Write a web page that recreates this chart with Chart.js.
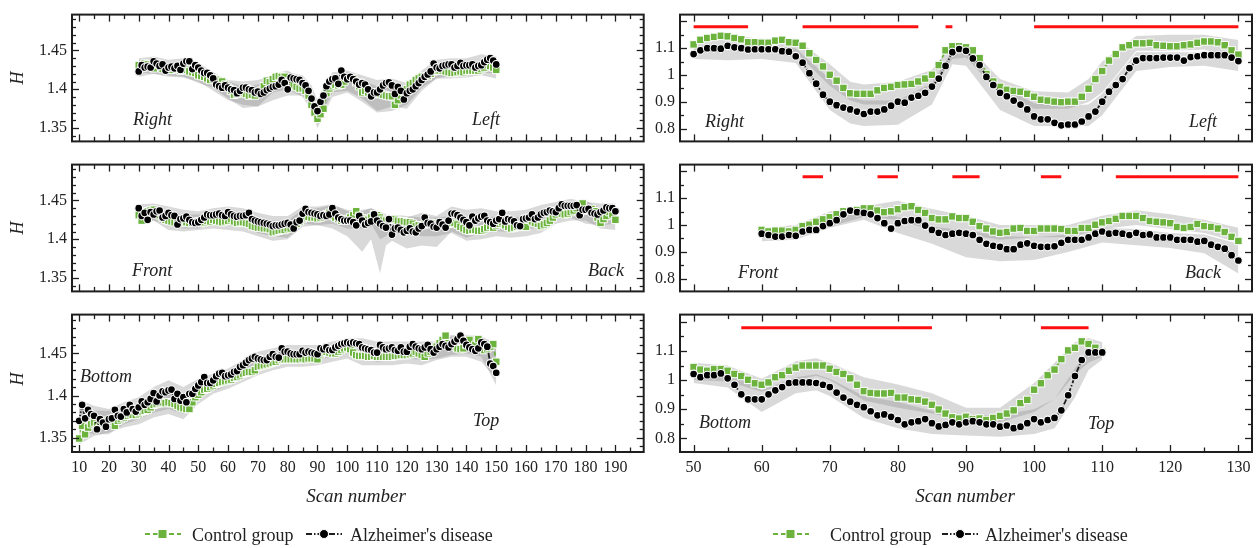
<!DOCTYPE html>
<html>
<head>
<meta charset="utf-8">
<script src="https://cdn.jsdelivr.net/npm/chart.js@4.4.1/dist/chart.umd.min.js"></script>
<style>
  body { margin: 0; background: #fff; }
  #wrap { position: relative; width: 1260px; height: 548px; overflow: hidden;
          font-family: 'Liberation Serif', 'Times New Roman', serif; color: #222; }
  canvas { position: absolute; }
  .lbl { position: absolute; font-style: italic; font-size: 18px; line-height: 18px;
         white-space: nowrap; transform: translateY(-50%); }
  .ytitle { position: absolute; font-style: italic; font-size: 18px; line-height: 18px;
            transform: translate(-50%, -50%) rotate(-90deg); }
  .xtitle { position: absolute; font-style: italic; font-size: 19px; line-height: 20px;
            white-space: nowrap; transform: translate(-50%, -50%); }
  .key { position: absolute; transform: translateY(-50%); }
  .ktext { position: absolute; font-size: 18px; line-height: 18px; white-space: nowrap;
           transform: translateY(-50%); }
</style>
</head>
<body>
<div id="wrap">
  <canvas id="cL1" width="650" height="156" style="left:0;top:0"></canvas>
  <canvas id="cL2" width="650" height="156" style="left:0;top:150px"></canvas>
  <canvas id="cL3" width="650" height="210" style="left:0;top:300px"></canvas>
  <canvas id="cR1" width="610" height="156" style="left:650px;top:0"></canvas>
  <canvas id="cR2" width="610" height="156" style="left:650px;top:150px"></canvas>
  <canvas id="cR3" width="610" height="210" style="left:650px;top:300px"></canvas>

  <div class="ytitle" style="left:17px;top:78px">H</div>
  <div class="ytitle" style="left:17px;top:228px">H</div>
  <div class="ytitle" style="left:17px;top:379px">H</div>

  <div class="lbl" style="left:133px;top:119px">Right</div>
  <div class="lbl" style="left:472px;top:119px">Left</div>
  <div class="lbl" style="left:132px;top:270px">Front</div>
  <div class="lbl" style="left:588px;top:270px">Back</div>
  <div class="lbl" style="left:80px;top:376px">Bottom</div>
  <div class="lbl" style="left:473px;top:420px">Top</div>
  <div class="lbl" style="left:705px;top:121px">Right</div>
  <div class="lbl" style="left:1189px;top:121px">Left</div>
  <div class="lbl" style="left:738px;top:272px">Front</div>
  <div class="lbl" style="left:1185px;top:272px">Back</div>
  <div class="lbl" style="left:699px;top:422px">Bottom</div>
  <div class="lbl" style="left:1088px;top:423px">Top</div>

  <div class="xtitle" style="left:356px;top:496px">Scan number</div>
  <div class="xtitle" style="left:965px;top:496px">Scan number</div>

  <div id="legends"></div>
</div>
<script>
const range = (a, b) => Array.from({ length: b - a + 1 }, (_, i) => a + i);

// ---- left column: whole-scan H values ----
const scanLR = range(30, 150);
const lrControl = [
  1.431,1.428,1.433,1.432,1.430,1.427,1.433,1.431,1.426,1.428,
  1.427,1.425,1.428,1.426,1.424,1.426,1.425,1.423,1.422,1.421,
  1.418,1.417,1.416,1.414,1.412,1.414,1.413,1.411,1.410,1.406,
  1.402,1.398,1.393,1.394,1.397,1.396,1.394,1.392,1.393,1.392,
  1.395,1.398,1.404,1.411,1.409,1.413,1.416,1.417,1.416,1.416,
  1.410,1.407,1.405,1.403,1.401,1.401,1.398,1.392,1.380,1.370,
  1.362,1.368,1.375,1.395,1.401,1.404,1.406,1.405,1.406,1.410,
  1.415,1.414,1.414,1.409,1.404,1.396,1.398,1.396,1.394,1.394,
  1.394,1.394,1.393,1.392,1.391,1.391,1.380,1.386,1.392,1.397,
  1.400,1.406,1.408,1.412,1.414,1.416,1.417,1.417,1.420,1.423,
  1.424,1.424,1.424,1.423,1.422,1.421,1.421,1.422,1.423,1.422,
  1.424,1.424,1.424,1.424,1.424,1.426,1.428,1.431,1.430,1.428,
  1.425];
const lrAD = [
  1.423,1.431,1.428,1.429,1.428,1.436,1.433,1.430,1.432,1.424,
  1.428,1.429,1.427,1.430,1.425,1.433,1.436,1.436,1.426,1.431,
  1.428,1.424,1.421,1.421,1.418,1.414,1.406,1.404,1.402,1.405,
  1.402,1.400,1.399,1.395,1.398,1.402,1.402,1.400,1.399,1.396,
  1.397,1.394,1.396,1.399,1.401,1.403,1.404,1.406,1.412,1.408,
  1.400,1.415,1.414,1.413,1.412,1.408,1.405,1.398,1.388,1.378,
  1.372,1.384,1.392,1.404,1.410,1.413,1.414,1.407,1.424,1.416,
  1.413,1.416,1.413,1.410,1.406,1.408,1.406,1.400,1.391,1.396,
  1.396,1.400,1.405,1.408,1.409,1.405,1.394,1.403,1.398,1.387,
  1.395,1.398,1.400,1.404,1.408,1.412,1.416,1.419,1.423,1.433,
  1.428,1.427,1.430,1.431,1.432,1.432,1.428,1.430,1.434,1.430,
  1.431,1.431,1.432,1.428,1.430,1.431,1.435,1.438,1.440,1.437,
  1.432];
const lrBandX  = [30,35,40,45,50,55,60,65,70,75,80,85,88,90,92,95,100,105,110,115,120,125,130,135,140,145,150];
const lrCtlHi  = [1.438,1.436,1.432,1.430,1.426,1.422,1.410,1.404,1.406,1.420,1.424,1.412,1.398,1.378,1.395,1.414,1.422,1.412,1.404,1.404,1.406,1.422,1.432,1.432,1.432,1.436,1.434];
const lrCtlLo  = [1.422,1.420,1.418,1.416,1.408,1.402,1.388,1.376,1.378,1.396,1.400,1.390,1.372,1.350,1.366,1.390,1.396,1.384,1.370,1.372,1.380,1.402,1.414,1.414,1.415,1.418,1.414];
const lrADHi   = [1.440,1.442,1.438,1.440,1.434,1.422,1.412,1.410,1.412,1.418,1.422,1.418,1.405,1.386,1.402,1.422,1.424,1.418,1.412,1.414,1.408,1.424,1.438,1.440,1.440,1.445,1.442];
const lrADLo   = [1.416,1.420,1.416,1.415,1.410,1.398,1.386,1.380,1.378,1.386,1.392,1.392,1.378,1.356,1.372,1.396,1.398,1.388,1.372,1.378,1.375,1.398,1.414,1.418,1.420,1.422,1.420];

const scanFB = range(30, 190);
const fbControl = [
  1.431,1.424,1.435,1.436,1.437,1.438,1.434,1.431,1.428,1.425,
  1.424,1.423,1.422,1.422,1.421,1.423,1.422,1.421,1.421,1.422,
  1.423,1.421,1.422,1.424,1.423,1.425,1.424,1.423,1.422,1.423,
  1.424,1.426,1.423,1.421,1.422,1.422,1.421,1.420,1.417,1.416,
  1.415,1.415,1.414,1.414,1.413,1.409,1.410,1.411,1.412,1.412,
  1.414,1.414,1.417,1.420,1.423,1.426,1.428,1.429,1.428,1.428,
  1.427,1.428,1.430,1.432,1.434,1.430,1.428,1.426,1.424,1.425,
  1.426,1.428,1.431,1.436,1.430,1.427,1.425,1.425,1.428,1.432,
  1.431,1.428,1.425,1.424,1.425,1.427,1.426,1.424,1.423,1.423,
  1.422,1.422,1.420,1.417,1.418,1.418,1.419,1.420,1.421,1.420,
  1.418,1.420,1.421,1.420,1.420,1.421,1.421,1.419,1.416,1.414,
  1.412,1.411,1.412,1.412,1.411,1.411,1.413,1.415,1.417,1.415,
  1.418,1.420,1.422,1.418,1.416,1.414,1.415,1.416,1.416,1.416,
  1.416,1.425,1.423,1.421,1.420,1.417,1.419,1.421,1.424,1.428,
  1.432,1.435,1.433,1.432,1.433,1.435,1.437,1.440,1.444,1.446,
  1.437,1.438,1.439,1.436,1.428,1.421,1.426,1.430,1.435,1.432,
  1.425];
const fbAD = [
  1.440,1.430,1.434,1.425,1.435,1.432,1.436,1.437,1.428,1.430,
  1.434,1.431,1.430,1.419,1.426,1.427,1.429,1.425,1.422,1.421,
  1.422,1.425,1.428,1.432,1.431,1.431,1.432,1.433,1.431,1.430,
  1.435,1.432,1.430,1.429,1.430,1.430,1.431,1.434,1.426,1.424,
  1.423,1.422,1.421,1.420,1.419,1.417,1.418,1.418,1.419,1.420,
  1.421,1.419,1.414,1.422,1.424,1.433,1.439,1.435,1.434,1.433,
  1.432,1.430,1.431,1.430,1.432,1.440,1.433,1.428,1.426,1.424,
  1.424,1.424,1.422,1.418,1.430,1.424,1.419,1.421,1.423,1.432,
  1.424,1.420,1.417,1.415,1.426,1.406,1.414,1.415,1.412,1.409,
  1.411,1.414,1.410,1.409,1.414,1.417,1.428,1.421,1.420,1.416,
  1.415,1.422,1.419,1.415,1.424,1.433,1.433,1.431,1.428,1.425,
  1.422,1.418,1.429,1.424,1.427,1.429,1.430,1.424,1.422,1.420,
  1.424,1.426,1.434,1.423,1.426,1.425,1.423,1.418,1.417,1.426,
  1.427,1.428,1.432,1.426,1.428,1.432,1.434,1.435,1.437,1.436,
  1.435,1.440,1.445,1.443,1.443,1.443,1.443,1.444,1.431,1.438,
  1.438,1.439,1.434,1.433,1.432,1.435,1.437,1.441,1.440,1.440,
  1.436];
const fbBandX = [30,35,40,45,50,55,60,65,70,75,80,85,90,95,100,105,108,111,113,115,120,125,130,135,140,145,150,155,160,165,170,175,180,185,190];
const fbCtlHi = [1.440,1.442,1.434,1.432,1.432,1.434,1.434,1.432,1.428,1.424,1.424,1.438,1.440,1.444,1.438,1.436,1.440,1.434,1.430,1.432,1.430,1.428,1.428,1.430,1.424,1.426,1.430,1.428,1.430,1.434,1.442,1.448,1.450,1.440,1.438];
const fbCtlLo = [1.420,1.424,1.412,1.410,1.412,1.414,1.412,1.410,1.404,1.398,1.400,1.416,1.418,1.420,1.414,1.414,1.420,1.400,1.404,1.412,1.408,1.404,1.404,1.408,1.398,1.400,1.404,1.402,1.404,1.408,1.420,1.424,1.424,1.414,1.412];
const fbADHi  = [1.445,1.446,1.442,1.438,1.436,1.440,1.442,1.440,1.434,1.430,1.430,1.442,1.442,1.445,1.436,1.438,1.440,1.436,1.432,1.430,1.428,1.434,1.430,1.442,1.438,1.440,1.436,1.436,1.438,1.444,1.448,1.452,1.448,1.446,1.446];
const fbADLo  = [1.422,1.424,1.418,1.414,1.414,1.420,1.418,1.418,1.408,1.404,1.402,1.420,1.418,1.414,1.404,1.384,1.400,1.356,1.392,1.398,1.388,1.392,1.390,1.410,1.402,1.408,1.410,1.410,1.412,1.416,1.426,1.428,1.420,1.418,1.420];

const scanBT = range(10, 150);
const btControl = [
  1.349,1.364,1.354,1.362,1.366,1.368,1.365,1.367,1.369,1.370,
  1.369,1.371,1.364,1.370,1.372,1.374,1.376,1.378,1.377,1.377,
  1.379,1.381,1.382,1.383,1.386,1.389,1.390,1.391,1.392,1.391,
  1.392,1.391,1.390,1.388,1.386,1.385,1.384,1.384,1.392,1.398,
  1.401,1.404,1.407,1.408,1.410,1.412,1.414,1.415,1.416,1.417,
  1.418,1.419,1.421,1.422,1.424,1.426,1.427,1.428,1.428,1.430,
  1.434,1.435,1.436,1.437,1.438,1.439,1.440,1.442,1.443,1.443,
  1.443,1.443,1.443,1.443,1.443,1.444,1.443,1.444,1.444,1.444,
  1.443,1.449,1.451,1.452,1.451,1.450,1.450,1.452,1.454,1.456,
  1.457,1.455,1.451,1.448,1.447,1.447,1.447,1.446,1.446,1.447,
  1.446,1.446,1.446,1.446,1.446,1.446,1.447,1.447,1.448,1.448,
  1.448,1.449,1.450,1.452,1.450,1.448,1.446,1.450,1.452,1.455,
  1.458,1.462,1.466,1.471,1.462,1.460,1.458,1.456,1.455,1.456,
  1.460,1.466,1.457,1.460,1.467,1.460,1.454,1.456,1.458,1.461,
  1.440];
const btAD = [
  1.370,1.389,1.373,1.383,1.378,1.376,1.360,1.372,1.368,1.363,
  1.372,1.373,1.383,1.376,1.375,1.384,1.380,1.389,1.384,1.381,
  1.386,1.393,1.389,1.392,1.396,1.403,1.393,1.400,1.405,1.404,
  1.406,1.407,1.396,1.402,1.394,1.398,1.392,1.402,1.402,1.408,
  1.412,1.416,1.422,1.415,1.415,1.418,1.423,1.426,1.427,1.423,
  1.424,1.425,1.428,1.429,1.434,1.436,1.439,1.442,1.444,1.446,
  1.444,1.443,1.442,1.442,1.446,1.449,1.446,1.445,1.456,1.452,
  1.452,1.450,1.449,1.449,1.449,1.453,1.451,1.452,1.451,1.450,
  1.449,1.456,1.455,1.457,1.454,1.454,1.457,1.459,1.461,1.462,
  1.463,1.462,1.463,1.462,1.461,1.457,1.456,1.455,1.454,1.451,
  1.451,1.460,1.457,1.455,1.456,1.457,1.454,1.453,1.457,1.452,
  1.452,1.458,1.461,1.458,1.456,1.455,1.457,1.460,1.455,1.451,
  1.455,1.458,1.461,1.459,1.457,1.461,1.464,1.467,1.471,1.465,
  1.460,1.457,1.455,1.453,1.456,1.463,1.461,1.458,1.438,1.435,
  1.427];
const btBandX = [10,15,20,25,30,35,40,45,50,55,60,65,70,75,80,85,90,95,100,105,110,115,120,125,130,135,140,145,150];
const btCtlHi = [1.385,1.382,1.382,1.386,1.390,1.400,1.408,1.400,1.412,1.420,1.426,1.434,1.442,1.448,1.452,1.452,1.454,1.458,1.464,1.458,1.456,1.456,1.458,1.458,1.464,1.472,1.470,1.470,1.462];
const btCtlLo = [1.342,1.352,1.356,1.362,1.366,1.374,1.378,1.372,1.390,1.402,1.408,1.416,1.424,1.430,1.434,1.434,1.436,1.440,1.444,1.436,1.436,1.436,1.438,1.436,1.442,1.446,1.446,1.440,1.420];
const btADHi  = [1.395,1.388,1.384,1.392,1.398,1.410,1.418,1.410,1.420,1.426,1.432,1.442,1.452,1.456,1.460,1.460,1.460,1.464,1.468,1.468,1.464,1.464,1.464,1.464,1.464,1.470,1.472,1.470,1.455];
const btADLo  = [1.358,1.354,1.354,1.366,1.372,1.380,1.384,1.378,1.398,1.405,1.412,1.422,1.430,1.436,1.440,1.442,1.442,1.446,1.450,1.444,1.440,1.442,1.444,1.442,1.444,1.448,1.450,1.446,1.412];

// ---- right column: H per scan, scans 50-130 ----
const scanR1 = range(50, 130);
const r1Control = [
  1.114,1.131,1.138,1.142,1.146,1.144,1.138,1.133,1.122,1.122,
  1.120,1.120,1.128,1.131,1.122,1.120,1.109,1.081,1.056,1.032,
  1.001,0.979,0.952,0.932,0.930,0.930,0.930,0.943,0.952,0.956,
  0.963,0.965,0.967,0.976,0.987,1.001,1.037,1.092,1.107,1.107,
  1.103,1.092,1.063,1.004,0.976,0.956,0.945,0.941,0.938,0.930,
  0.919,0.908,0.905,0.901,0.899,0.901,0.901,0.919,0.949,0.985,
  1.015,1.054,1.078,1.103,1.111,1.118,1.118,1.120,1.111,1.109,
  1.107,1.107,1.111,1.114,1.120,1.125,1.125,1.122,1.111,1.092,
  1.076];
const r1AD = [
  1.078,1.092,1.100,1.100,1.098,1.109,1.103,1.100,1.095,1.096,
  1.096,1.096,1.096,1.089,1.087,1.070,1.046,1.007,0.968,0.927,
  0.901,0.888,0.879,0.872,0.864,0.855,0.864,0.864,0.872,0.886,
  0.901,0.897,0.916,0.923,0.934,0.957,0.987,1.034,1.085,1.097,
  1.090,1.062,1.037,0.993,0.963,0.934,0.921,0.905,0.890,0.872,
  0.846,0.835,0.835,0.822,0.813,0.816,0.816,0.827,0.846,0.864,
  0.901,0.938,0.963,0.985,1.026,1.054,1.063,1.063,1.063,1.065,
  1.065,1.065,1.054,1.067,1.070,1.074,1.074,1.074,1.074,1.065,
  1.052];
const r1BandX = [50,55,60,65,70,73,75,80,85,88,90,95,100,105,108,110,115,120,125,130];
const r1CtlHi = [1.125,1.148,1.135,1.135,1.040,0.975,0.965,0.975,1.020,1.115,1.115,0.985,0.940,0.935,0.985,1.050,1.145,1.150,1.150,1.130];
const r1CtlLo = [1.095,1.100,1.095,1.085,0.960,0.905,0.890,0.890,0.945,1.060,1.065,0.930,0.875,0.875,0.900,0.935,1.090,1.090,1.095,1.055];
const r1ADHi  = [1.105,1.115,1.110,1.100,0.985,0.920,0.905,0.905,0.970,1.090,1.100,0.960,0.895,0.885,0.890,0.930,1.085,1.085,1.085,1.075];
const r1ADLo  = [1.060,1.055,1.060,1.045,0.870,0.820,0.810,0.815,0.890,1.040,1.035,0.870,0.810,0.810,0.810,0.850,1.015,1.030,1.035,1.015];
const r1Sig = [[50, 58], [66, 83], [87, 88], [100, 130]];

const scanR2 = range(60, 130);
const r2Control = [
  0.982,0.976,0.979,0.979,0.976,0.982,0.996,1.001,1.012,1.021,
  1.029,1.040,1.051,1.054,1.056,1.062,1.062,1.054,1.048,1.051,
  1.059,1.067,1.070,1.056,1.045,1.026,1.021,1.021,1.032,1.026,
  1.026,1.012,0.996,0.987,0.976,0.971,0.974,0.987,0.989,0.978,
  0.978,0.987,0.987,0.987,0.985,0.978,0.978,0.989,0.989,1.001,
  1.010,1.015,1.023,1.034,1.034,1.034,1.026,1.015,1.012,1.010,
  1.007,0.993,0.989,0.993,1.004,0.996,0.993,0.987,0.974,0.956,
  0.941];
const r2AD = [
  0.968,0.963,0.957,0.957,0.963,0.960,0.976,0.982,0.982,0.996,
  1.007,1.018,1.040,1.054,1.048,1.045,1.040,1.026,1.007,0.987,
  1.007,1.015,1.018,1.018,0.998,0.982,0.971,0.963,0.968,0.971,
  0.968,0.963,0.945,0.930,0.923,0.919,0.910,0.910,0.927,0.932,
  0.923,0.919,0.919,0.921,0.934,0.945,0.945,0.945,0.954,0.968,
  0.976,0.968,0.971,0.968,0.963,0.971,0.963,0.965,0.954,0.954,
  0.954,0.945,0.945,0.945,0.938,0.941,0.927,0.919,0.912,0.888,
  0.868];
const r2BandX = [60,65,70,75,80,85,90,95,100,105,110,115,120,125,130];
const r2CtlHi = [0.990,1.000,1.050,1.070,1.090,1.060,1.035,1.000,1.000,1.000,1.035,1.055,1.040,1.020,0.990];
const r2CtlLo = [0.955,0.965,0.995,1.030,1.020,0.980,0.965,0.945,0.955,0.955,0.985,1.000,0.985,0.970,0.935];
const r2ADHi  = [0.980,0.975,1.020,1.060,1.030,0.995,0.980,0.960,0.955,0.965,0.990,0.985,0.970,0.965,0.930];
const r2ADLo  = [0.940,0.945,0.990,1.020,0.970,0.930,0.880,0.865,0.870,0.900,0.935,0.925,0.915,0.895,0.820];
const r2Sig = [[66, 69], [77, 80], [88, 92], [101, 104], [112, 130]];

const scanR3 = range(50, 110);
const r3Control = [
  1.045,1.036,1.032,1.038,1.038,1.032,1.021,1.014,1.001,0.989,
  0.984,0.992,1.010,1.017,1.032,1.043,1.050,1.050,1.050,1.050,
  1.039,1.028,1.021,1.006,0.984,0.962,0.956,0.954,0.954,0.956,
  0.940,0.940,0.934,0.932,0.926,0.915,0.899,0.885,0.872,0.868,
  0.874,0.866,0.868,0.863,0.870,0.877,0.885,0.896,0.921,0.932,
  0.967,0.989,1.017,1.036,1.072,1.102,1.111,1.133,1.124,1.111,
  1.097];
const r3AD = [
  1.021,1.010,1.017,1.017,1.023,1.006,0.984,0.951,0.934,0.934,
  0.934,0.951,0.965,0.976,0.990,0.992,0.992,0.992,0.990,0.984,
  0.976,0.957,0.940,0.926,0.915,0.907,0.893,0.879,0.882,0.874,
  0.863,0.848,0.855,0.859,0.866,0.852,0.841,0.846,0.855,0.848,
  0.855,0.859,0.855,0.848,0.848,0.840,0.844,0.835,0.840,0.852,
  0.866,0.855,0.863,0.870,0.896,0.948,1.014,1.069,1.095,1.095,
  1.095];
const r3BandX = [50,55,60,65,68,70,75,80,85,90,95,100,103,106,108,110];
const r3CtlHi = [1.060,1.050,1.005,1.065,1.075,1.060,1.010,0.985,0.955,0.905,0.905,0.990,1.060,1.130,1.145,1.130];
const r3CtlLo = [1.000,0.995,0.960,1.000,1.015,1.000,0.930,0.905,0.885,0.860,0.855,0.890,0.935,1.020,1.060,1.080];
const r3ADHi  = [1.045,1.035,0.965,1.010,1.020,1.005,0.945,0.925,0.895,0.880,0.880,0.900,0.935,1.040,1.100,1.115];
const r3ADLo  = [0.990,0.975,0.890,0.955,0.965,0.945,0.870,0.835,0.815,0.810,0.805,0.815,0.835,0.940,1.035,1.070];
const r3Sig = [[57, 85], [101, 108]];

const GREEN = '#6cb33e';
const INK = '#1e1e1e';
const BAND = 'rgba(124,124,124,0.29)';
const SIG_RED = '#ff1010';
const SIG_LEVEL = 1.18;
const FONT = "'Liberation Serif', 'Times New Roman', serif";

const xy = (xs, ys) => xs.map((x, i) => ({ x, y: ys[i] }));

// inward ticks on all four sides plus the box frame
const frameTicks = {
  id: 'frameTicks',
  afterDatasetsDraw(chart, args, o) {
    const { ctx, chartArea: a } = chart;
    const sx = chart.scales.x, sy = chart.scales.y;
    ctx.save();
    ctx.strokeStyle = INK;
    ctx.lineWidth = 1.3;
    const seg = (x1, y1, x2, y2) => { ctx.beginPath(); ctx.moveTo(x1, y1); ctx.lineTo(x2, y2); ctx.stroke(); };
    const isMajor = (v, step) => Math.abs(v / step - Math.round(v / step)) < 1e-6;
    for (let k = Math.ceil(sx.min / o.xMinor); k * o.xMinor <= sx.max; k++) {
      const v = k * o.xMinor;
      const px = Math.round(sx.getPixelForValue(v)) + 0.5;
      const len = isMajor(v, o.xMajor) ? 7 : 4.5;
      seg(px, a.bottom, px, a.bottom - len);
      seg(px, a.top, px, a.top + len);
    }
    for (let k = Math.ceil(sy.min / o.yMinor - 1e-9); k * o.yMinor <= sy.max + 1e-9; k++) {
      const v = k * o.yMinor;
      const py = Math.round(sy.getPixelForValue(v)) + 0.5;
      const len = isMajor(v, o.yMajor) ? 7 : 4;
      seg(a.left, py, a.left + len, py);
      seg(a.right, py, a.right - len, py);
    }
    ctx.lineWidth = 2;
    ctx.strokeRect(a.left, a.top, a.right - a.left, a.bottom - a.top);
    ctx.restore();
  }
};

function bandPair(xs, lo, hi) {
  const base = { pointRadius: 0, borderColor: 'transparent', borderWidth: 0, order: 10 };
  return [
    { ...base, data: xy(xs, lo), fill: false },
    { ...base, data: xy(xs, hi), fill: '-1', backgroundColor: BAND }
  ];
}

function sigData(segs) {
  const pts = [];
  segs.forEach(([a, b]) => { pts.push({ x: a, y: SIG_LEVEL }, { x: b, y: SIG_LEVEL }, { x: b, y: null }); });
  return pts;
}

function makePanel(p) {
  const left = p.col === 'left';
  const datasets = [
    { data: xy(p.scan, p.ad), order: 0, borderColor: INK, borderWidth: 1.8, borderDash: [6, 2, 1.5, 2],
      pointStyle: 'circle', pointRadius: 3.9, pointBackgroundColor: '#000',
      pointBorderColor: '#fff', pointBorderWidth: 1.1 },
    { data: xy(p.scan, p.ctl), order: 2, borderColor: GREEN, borderWidth: 1.8, borderDash: [4, 2.5],
      pointStyle: 'rect', pointRadius: 5.3, pointBackgroundColor: GREEN,
      pointBorderColor: '#fff', pointBorderWidth: 1 },
    ...bandPair(p.bandX, p.adLo, p.adHi),
    ...bandPair(p.bandX, p.ctlLo, p.ctlHi)
  ];
  if (p.sig) {
    datasets.push({ data: sigData(p.sig), order: 1, borderColor: SIG_RED, borderWidth: 3,
      pointRadius: 0, spanGaps: false });
  }
  const xTicks = [];
  for (let v = p.xLab[0]; v <= p.xLab[1]; v += 10) xTicks.push(v);
  new Chart(document.getElementById(p.id), {
    type: 'line',
    data: { datasets },
    options: {
      responsive: false,
      animation: false,
      events: [],
      layout: { padding: { top: 8, right: left ? 6 : 8, bottom: p.bottom ? 0 : 5, left: 0 } },
      plugins: {
        legend: { display: false },
        tooltip: { enabled: false },
        frameTicks: left
          ? { xMinor: 5, xMajor: 10, yMinor: 0.01, yMajor: 0.05 }
          : { xMinor: 5, xMajor: 10, yMinor: 0.05, yMajor: 0.1 }
      },
      elements: { line: { tension: 0 } },
      scales: {
        x: {
          type: 'linear',
          display: p.bottom,
          min: p.xRange[0], max: p.xRange[1],
          grid: { display: false, drawTicks: false },
          border: { display: false },
          afterBuildTicks: s => { s.ticks = xTicks.map(v => ({ value: v })); },
          afterFit: s => { s.height = p.bottom ? 58 : 0; },
          ticks: { autoSkip: false, maxRotation: 0, padding: 6, color: '#222',
                   font: { family: FONT, size: 16 }, callback: v => String(v) }
        },
        y: {
          min: p.yRange[0], max: p.yRange[1],
          grid: { display: false, drawTicks: false },
          border: { display: false },
          afterBuildTicks: s => { s.ticks = p.yTicks.map(v => ({ value: v })); },
          afterFit: s => { s.width = left ? 72 : 30; },
          ticks: { autoSkip: false, padding: 5, color: '#222',
                   font: { family: FONT, size: 16 },
                   callback: v => String(parseFloat(v.toFixed(2))) }
        }
      }
    },
    plugins: [frameTicks]
  });
}

const leftY = [1.333, 1.496], leftYT = [1.35, 1.4, 1.45];
const rightY = [0.753, 1.225], rightYT = [0.8, 0.9, 1.0, 1.1];
const leftX = [7.6, 199.5], rightX = [48, 132];

[
  { id: 'cL1', col: 'left', scan: scanLR, ctl: lrControl, ad: lrAD, bandX: lrBandX,
    ctlLo: lrCtlLo, ctlHi: lrCtlHi, adLo: lrADLo, adHi: lrADHi,
    xRange: leftX, xLab: [10, 190], yRange: leftY, yTicks: leftYT, bottom: false },
  { id: 'cL2', col: 'left', scan: scanFB, ctl: fbControl, ad: fbAD, bandX: fbBandX,
    ctlLo: fbCtlLo, ctlHi: fbCtlHi, adLo: fbADLo, adHi: fbADHi,
    xRange: leftX, xLab: [10, 190], yRange: leftY, yTicks: leftYT, bottom: false },
  { id: 'cL3', col: 'left', scan: scanBT, ctl: btControl, ad: btAD, bandX: btBandX,
    ctlLo: btCtlLo, ctlHi: btCtlHi, adLo: btADLo, adHi: btADHi,
    xRange: leftX, xLab: [10, 190], yRange: leftY, yTicks: leftYT, bottom: true },
  { id: 'cR1', col: 'right', scan: scanR1, ctl: r1Control, ad: r1AD, bandX: r1BandX,
    ctlLo: r1CtlLo, ctlHi: r1CtlHi, adLo: r1ADLo, adHi: r1ADHi, sig: r1Sig,
    xRange: rightX, xLab: [50, 130], yRange: rightY, yTicks: rightYT, bottom: false },
  { id: 'cR2', col: 'right', scan: scanR2, ctl: r2Control, ad: r2AD, bandX: r2BandX,
    ctlLo: r2CtlLo, ctlHi: r2CtlHi, adLo: r2ADLo, adHi: r2ADHi, sig: r2Sig,
    xRange: rightX, xLab: [50, 130], yRange: rightY, yTicks: rightYT, bottom: false },
  { id: 'cR3', col: 'right', scan: scanR3, ctl: r3Control, ad: r3AD, bandX: r3BandX,
    ctlLo: r3CtlLo, ctlHi: r3CtlHi, adLo: r3ADLo, adHi: r3ADHi, sig: r3Sig,
    xRange: rightX, xLab: [50, 130], yRange: rightY, yTicks: rightYT, bottom: true }
].forEach(makePanel);

// legend rows under each column
const greenKey = `<svg width="36" height="12"><line x1="0" y1="6" x2="36" y2="6" stroke="${GREEN}" stroke-width="2" stroke-dasharray="5 3"/><rect x="13" y="1.5" width="9" height="9" fill="${GREEN}" stroke="#fff" stroke-width="1"/></svg>`;
const blackKey = `<svg width="36" height="12"><line x1="0" y1="6" x2="36" y2="6" stroke="${INK}" stroke-width="2" stroke-dasharray="6 2 1.5 2"/><circle cx="18" cy="6" r="4.5" fill="#000" stroke="#fff" stroke-width="1"/></svg>`;
const legendRows = [
  { y: 535, items: [[145, greenKey, 192, 'Control group'], [306, blackKey, 350, "Alzheimer's disease"]] },
  { y: 535, items: [[773, greenKey, 830, 'Control group'], [942, blackKey, 985, "Alzheimer's disease"]] }
];
let html = '';
legendRows.forEach(r => r.items.forEach(([kx, key, tx, txt]) => {
  html += `<div class="key" style="left:${kx}px;top:${r.y}px">${key}</div>`;
  html += `<div class="ktext" style="left:${tx}px;top:${r.y}px">${txt}</div>`;
}));
document.getElementById('legends').innerHTML = html;
</script>
</body>
</html>
